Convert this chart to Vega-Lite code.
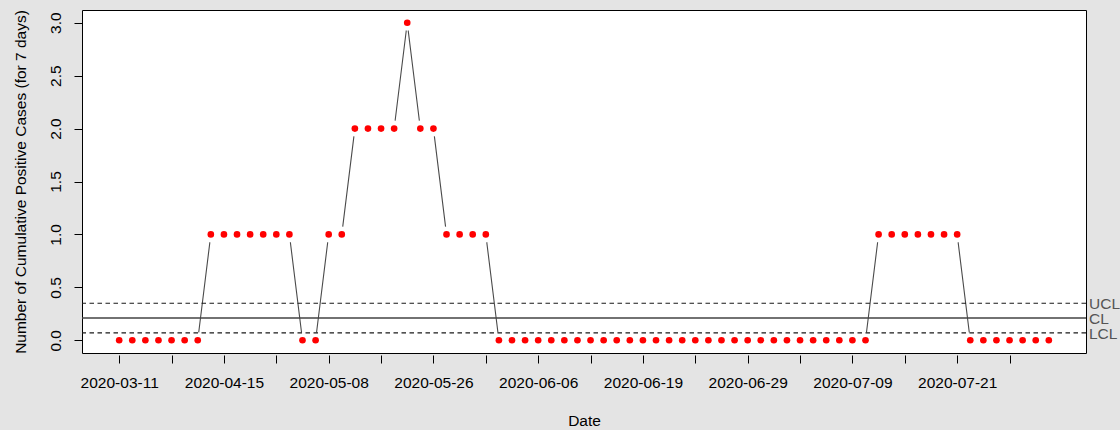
{
  "$schema": "https://vega.github.io/schema/vega-lite/v6.json",
  "width": 1004,
  "height": 343,
  "autosize": {"type": "none"},
  "padding": {"left": 82, "top": 10, "right": 34, "bottom": 77},
  "background": "#e4e4e4",
  "config": {
    "font": "Liberation Sans",
    "view": {"fill": "white", "stroke": "black", "strokeWidth": 1},
    "axis": {
      "grid": false,
      "domain": false,
      "tickColor": "black",
      "tickSize": 8,
      "labelColor": "black",
      "titleColor": "black",
      "labelFont": "Liberation Sans",
      "titleFont": "Liberation Sans",
      "labelFontSize": 15.5,
      "titleFontSize": 15.5,
      "titleFontWeight": "normal"
    }
  },
  "datasets": {
    "series": [
      {"idx": 0, "value": 0}, {"idx": 1, "value": 0}, {"idx": 2, "value": 0}, {"idx": 3, "value": 0},
      {"idx": 4, "value": 0}, {"idx": 5, "value": 0}, {"idx": 6, "value": 0}, {"idx": 7, "value": 1},
      {"idx": 8, "value": 1}, {"idx": 9, "value": 1}, {"idx": 10, "value": 1}, {"idx": 11, "value": 1},
      {"idx": 12, "value": 1}, {"idx": 13, "value": 1}, {"idx": 14, "value": 0}, {"idx": 15, "value": 0},
      {"idx": 16, "value": 1}, {"idx": 17, "value": 1}, {"idx": 18, "value": 2}, {"idx": 19, "value": 2},
      {"idx": 20, "value": 2}, {"idx": 21, "value": 2}, {"idx": 22, "value": 3}, {"idx": 23, "value": 2},
      {"idx": 24, "value": 2}, {"idx": 25, "value": 1}, {"idx": 26, "value": 1}, {"idx": 27, "value": 1},
      {"idx": 28, "value": 1}, {"idx": 29, "value": 0}, {"idx": 30, "value": 0}, {"idx": 31, "value": 0},
      {"idx": 32, "value": 0}, {"idx": 33, "value": 0}, {"idx": 34, "value": 0}, {"idx": 35, "value": 0},
      {"idx": 36, "value": 0}, {"idx": 37, "value": 0}, {"idx": 38, "value": 0}, {"idx": 39, "value": 0},
      {"idx": 40, "value": 0}, {"idx": 41, "value": 0}, {"idx": 42, "value": 0}, {"idx": 43, "value": 0},
      {"idx": 44, "value": 0}, {"idx": 45, "value": 0}, {"idx": 46, "value": 0}, {"idx": 47, "value": 0},
      {"idx": 48, "value": 0}, {"idx": 49, "value": 0}, {"idx": 50, "value": 0}, {"idx": 51, "value": 0},
      {"idx": 52, "value": 0}, {"idx": 53, "value": 0}, {"idx": 54, "value": 0}, {"idx": 55, "value": 0},
      {"idx": 56, "value": 0}, {"idx": 57, "value": 0}, {"idx": 58, "value": 1}, {"idx": 59, "value": 1},
      {"idx": 60, "value": 1}, {"idx": 61, "value": 1}, {"idx": 62, "value": 1}, {"idx": 63, "value": 1},
      {"idx": 64, "value": 1}, {"idx": 65, "value": 0}, {"idx": 66, "value": 0}, {"idx": 67, "value": 0},
      {"idx": 68, "value": 0}, {"idx": 69, "value": 0}, {"idx": 70, "value": 0}, {"idx": 71, "value": 0}
    ],
    "limits": [
      {"name": "UCL", "value": 0.35, "style": "dashed"},
      {"name": "CL", "value": 0.21, "style": "solid"},
      {"name": "LCL", "value": 0.07, "style": "dashed"}
    ]
  },
  "layer": [
    {
      "data": {"name": "series"},
      "mark": {"type": "line", "color": "#4a4a4a", "strokeWidth": 1.1},
      "encoding": {
        "x": {
          "field": "idx",
          "type": "quantitative",
          "scale": {"domain": [-2.84, 73.84], "nice": false, "zero": false},
          "axis": {
            "title": "Date",
            "values": [0,1,2,3,4,5,6,7,8,9,10,11,12,13,14,15,16,17,18,19,20,21,22,23,24,25,26,27,28,29,30,31,32,33,34,35,36,37,38,39,40,41,42,43,44,45,46,47,48,49,50,51,52,53,54,55,56,57,58,59,60,61,62,63,64,65,66,67,68,69,70,71],
            "labelExpr": "datum.value % 8 === 0 ? ['2020-03-11','2020-04-15','2020-05-08','2020-05-26','2020-06-06','2020-06-19','2020-06-29','2020-07-09','2020-07-21'][datum.value / 8] : ''",
            "offset": 2,
            "labelOverlap": false,
            "labelFlush": false,
            "labelBaseline": "alphabetic",
            "labelPadding": 24,
            "titleBaseline": "alphabetic",
            "titleY": 70
          }
        },
        "y": {
          "field": "value",
          "type": "quantitative",
          "scale": {"domain": [-0.12, 3.12], "nice": false, "zero": false},
          "axis": {
            "title": "Number of Cumulative Positive Cases (for 7 days)",
            "values": [0, 0.5, 1, 1.5, 2, 2.5, 3],
            "format": ".1f",
            "labelAngle": 270,
            "labelAlign": "center",
            "labelBaseline": "alphabetic",
            "labelPadding": 14,
            "titleAngle": 270,
            "titleBaseline": "alphabetic",
            "titleX": -57,
            "titleY": 171.5
          }
        }
      }
    },
    {
      "data": {"name": "series"},
      "mark": {"type": "point", "shape": "circle", "filled": true, "color": "white", "opacity": 1, "size": 254},
      "encoding": {
        "x": {"field": "idx", "type": "quantitative"},
        "y": {"field": "value", "type": "quantitative"}
      }
    },
    {
      "data": {"name": "limits"},
      "mark": {"type": "rule"},
      "encoding": {
        "y": {"field": "value", "type": "quantitative"},
        "color": {
          "field": "style",
          "type": "nominal",
          "scale": {"domain": ["dashed", "solid"], "range": ["#1a1a1a", "#444444"]},
          "legend": null
        },
        "strokeWidth": {
          "field": "style",
          "type": "nominal",
          "scale": {"domain": ["dashed", "solid"], "range": [1.1, 1.4]},
          "legend": null
        },
        "strokeDash": {
          "field": "style",
          "type": "nominal",
          "scale": {"domain": ["dashed", "solid"], "range": [[4.5, 3.5], [1, 0]]},
          "legend": null
        }
      }
    },
    {
      "data": {"name": "limits"},
      "mark": {"type": "text", "align": "left", "baseline": "middle", "dx": 3, "dy": 1, "fontSize": 15.5, "color": "#555555", "font": "Liberation Sans"},
      "encoding": {
        "x": {"datum": 73.84, "type": "quantitative"},
        "y": {"field": "value", "type": "quantitative"},
        "text": {"field": "name", "type": "nominal"}
      }
    },
    {
      "data": {"name": "series"},
      "mark": {"type": "point", "shape": "circle", "filled": true, "color": "#ff0000", "opacity": 1, "size": 44},
      "encoding": {
        "x": {"field": "idx", "type": "quantitative"},
        "y": {"field": "value", "type": "quantitative"}
      }
    }
  ]
}
